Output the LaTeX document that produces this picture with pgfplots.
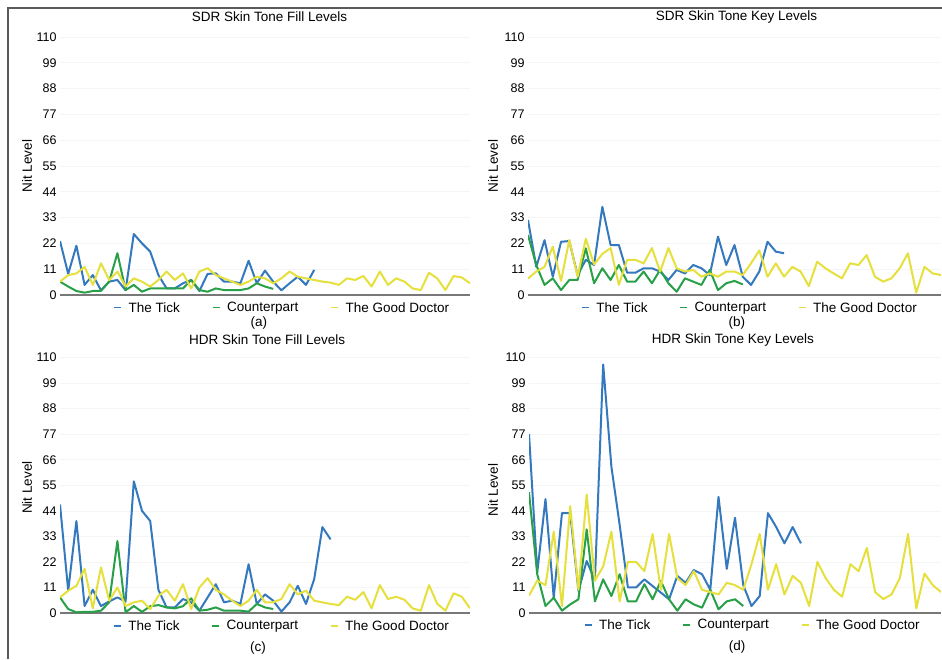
\documentclass[border=0pt]{standalone}
\usepackage{fontspec}
\setmainfont{Liberation Sans}
\usepackage{pgfplots}
\pgfplotsset{compat=1.18}
\definecolor{tickblue}{RGB}{52,120,190}
\definecolor{cpgreen}{RGB}{40,160,72}
\definecolor{gdyellow}{RGB}{230,224,60}
\definecolor{axisgray}{RGB}{120,120,120}
\definecolor{framegray}{RGB}{90,90,90}
\pgfplotsset{
  panel/.style={
    scale only axis, xmin=0, xmax=50, ymin=0, ymax=110,
    ytick={0,11,...,110}, xtick=\empty,
    axis x line*=bottom, axis y line*=left,
    x axis line style={draw=axisgray, line width=1.4pt, -},
    y axis line style={draw=none},
    major tick length=0pt, tick style={draw=none},
    ymajorgrids, grid style={draw=gray!8, line width=0.6pt},
    yticklabel style={font=\fontsize{12.5}{14}\selectfont, text=black},
    /pgf/number format/assume math mode=true,
    title style={font=\fontsize{13.5}{16}\selectfont, anchor=center},
    ylabel={Nit Level},
    ylabel style={font=\fontsize{13.5}{16}\selectfont, anchor=center},
    xlabel style={font=\fontsize{13.5}{16}\selectfont, anchor=center},
    legend columns=3,
    legend cell align=left,
    legend style={draw=none, fill=none, anchor=west, inner sep=0pt,
      font=\fontsize{13.5}{16}\selectfont,
      /tikz/every odd column/.append style={column sep=5pt},
      /tikz/every even column/.append style={column sep=30pt}},
    legend image code/.code={\draw[##1, line width=1.2pt] (0pt,0pt) -- (7pt,0pt);},
    every axis plot/.append style={line width=2pt, line join=round, no marks},
  }
}
\begin{document}
\begin{tikzpicture}
\useasboundingbox (0pt,0pt) rectangle (942pt,659pt);
\fill[white] (0pt,0pt) rectangle (942pt,659pt);
\draw[framegray, line width=1.5pt] (8pt,0pt) -- (8pt,651pt) -- (942pt,651pt);

% (a)
\begin{axis}[panel, at={(60pt,364pt)}, anchor=south west, width=410pt, height=258pt,
  title={SDR Skin Tone Fill Levels}, title style={at={(axis description cs:0.511,1.054)}},
  ylabel style={at={(axis description cs:-0.0805,0.5)}},
  xlabel={(a)}, xlabel style={at={(axis description cs:0.485,-0.1085)}},
  legend style={at={(axis description cs:0.13,-0.05)}}]
\addplot[tickblue] table[row sep=\\, x expr=\coordindex, y=v] {v\\ 23\\ 9\\ 21\\ 4.3\\ 8.5\\ 2\\ 5.7\\ 6.4\\ 2\\ 26\\ 22\\ 18.5\\ 8.5\\ 2.8\\ 2.8\\ 5\\ 6.4\\ 1.7\\ 9\\ 9.2\\ 5.7\\ 5.7\\ 5\\ 14.6\\ 5\\ 10.4\\ 5.7\\ 2\\ 5\\ 7.8\\ 4.3\\ 10.7\\};
\addplot[cpgreen] table[row sep=\\, x expr=\coordindex, y=v] {v\\ 5.7\\ 3.6\\ 1.7\\ 1\\ 1.7\\ 1.8\\ 5.7\\ 17.8\\ 2.1\\ 4.3\\ 1.4\\ 2.8\\ 2.8\\ 2.8\\ 2.8\\ 2.8\\ 6.4\\ 2.1\\ 1.4\\ 2.8\\ 2.1\\ 2.1\\ 2.1\\ 2.8\\ 5\\ 3.6\\ 2.6\\};
\addplot[gdyellow] table[row sep=\\, x expr=\coordindex, y=v] {v\\ 5.7\\ 8.5\\ 9.2\\ 12\\ 4.3\\ 13.5\\ 6.4\\ 10\\ 3.6\\ 7.1\\ 5.7\\ 3.6\\ 6.4\\ 10\\ 6.4\\ 9.2\\ 2.8\\ 10\\ 11.4\\ 8.5\\ 7.1\\ 5.7\\ 4.3\\ 5.7\\ 7.8\\ 7.1\\ 5\\ 7.1\\ 10\\ 7.8\\ 7.1\\ 6.4\\ 5.7\\ 5.3\\ 4.3\\ 7.1\\ 6.4\\ 8.1\\ 3.6\\ 10\\ 4.3\\ 7.1\\ 5.7\\ 2.8\\ 2.1\\ 9.5\\ 7.1\\ 2.1\\ 8.1\\ 7.5\\ 5\\};
\legend{The Tick, Counterpart, The Good Doctor}
\end{axis}

% (b)
\begin{axis}[panel, at={(528pt,364pt)}, anchor=south west, width=413pt, height=258pt,
  title={SDR Skin Tone Key Levels}, title style={at={(axis description cs:0.505,1.054)}},
  ylabel style={at={(axis description cs:-0.0847,0.5)}},
  xlabel={(b)}, xlabel style={at={(axis description cs:0.506,-0.1085)}},
  legend style={at={(axis description cs:0.128,-0.05)}}]
\addplot[tickblue] table[row sep=\\, x expr=\coordindex, y=v] {v\\ 32\\ 12\\ 23.4\\ 7.8\\ 22.7\\ 23\\ 8.5\\ 15\\ 12.8\\ 37.6\\ 21.3\\ 21.3\\ 9.5\\ 9.5\\ 11.4\\ 11.4\\ 10\\ 6.4\\ 10.7\\ 9.2\\ 12.8\\ 11.4\\ 8.5\\ 24.9\\ 12.8\\ 21.3\\ 7.8\\ 4.3\\ 10\\ 22.7\\ 18.5\\ 17.8\\};
\addplot[cpgreen] table[row sep=\\, x expr=\coordindex, y=v] {v\\ 25.6\\ 12.8\\ 4.3\\ 7.1\\ 2.1\\ 6.4\\ 6.4\\ 19.9\\ 5\\ 11.4\\ 6.4\\ 12.8\\ 5.7\\ 5.7\\ 10\\ 5\\ 10.7\\ 5\\ 1.4\\ 7.1\\ 5.7\\ 4.3\\ 10.7\\ 2.1\\ 5\\ 6\\ 4.5\\};
\addplot[gdyellow] table[row sep=\\, x expr=\coordindex, y=v] {v\\ 7\\ 10\\ 12\\ 20.6\\ 6\\ 23.5\\ 7.8\\ 24\\ 13\\ 17.5\\ 20\\ 4.3\\ 15\\ 15\\ 13.5\\ 20\\ 10\\ 20\\ 11.4\\ 10\\ 10.7\\ 7.8\\ 9.2\\ 7.8\\ 10\\ 10\\ 8.5\\ 13.5\\ 19\\ 7.8\\ 13.5\\ 7.8\\ 12\\ 10\\ 3.8\\ 14.2\\ 11.4\\ 9.2\\ 7.1\\ 13.5\\ 12.8\\ 17\\ 7.8\\ 5.7\\ 7.1\\ 11.4\\ 17.8\\ 1\\ 12\\ 9.2\\ 8.5\\};
\legend{The Tick, Counterpart, The Good Doctor}
\end{axis}

% (c)
\begin{axis}[panel, at={(60pt,46pt)}, anchor=south west, width=410pt, height=255.5pt,
  title={HDR Skin Tone Fill Levels}, title style={at={(axis description cs:0.505,1.045)}},
  ylabel style={at={(axis description cs:-0.0805,0.491)}},
  xlabel={(c)}, xlabel style={at={(axis description cs:0.483,-0.137)}},
  legend style={at={(axis description cs:0.129,-0.051)}}]
\addplot[tickblue] table[row sep=\\, x expr=\coordindex, y=v] {v\\ 46.7\\ 9.6\\ 39.6\\ 3\\ 10\\ 3\\ 5\\ 6.7\\ 5\\ 56.7\\ 44\\ 39.6\\ 10\\ 2.4\\ 2.4\\ 6\\ 4.6\\ 1\\ 6.7\\ 12.4\\ 4.6\\ 5.3\\ 3.9\\ 21\\ 3.9\\ 8\\ 5.3\\ 0.6\\ 4.6\\ 11.7\\ 3.9\\ 14.6\\ 37\\ 31.7\\};
\addplot[cpgreen] table[row sep=\\, x expr=\coordindex, y=v] {v\\ 6.7\\ 1.7\\ 0.3\\ 0.5\\ 0.5\\ 1\\ 4.6\\ 31\\ 0.3\\ 3\\ 0.5\\ 2.9\\ 3.4\\ 2.4\\ 2\\ 2.9\\ 6.3\\ 1\\ 1.4\\ 2.4\\ 1\\ 1\\ 1\\ 0.6\\ 3.9\\ 2.4\\ 1.7\\};
\addplot[gdyellow] table[row sep=\\, x expr=\coordindex, y=v] {v\\ 6.7\\ 9.6\\ 11.7\\ 19\\ 2\\ 19.6\\ 5.3\\ 11\\ 3\\ 4.6\\ 5.3\\ 1.7\\ 7.4\\ 10\\ 5.3\\ 12.4\\ 1.7\\ 11\\ 15\\ 10\\ 8\\ 5.3\\ 3\\ 5.3\\ 10\\ 4.6\\ 4.6\\ 6\\ 12.4\\ 8\\ 9.6\\ 5.3\\ 4.6\\ 3.9\\ 3.4\\ 7\\ 5.7\\ 9\\ 2\\ 12\\ 6\\ 7\\ 5.7\\ 2\\ 1\\ 12\\ 4\\ 1\\ 8.5\\ 7\\ 2\\};
\legend{The Tick, Counterpart, The Good Doctor}
\end{axis}

% (d)
\begin{axis}[panel, at={(529pt,46pt)}, anchor=south west, width=412pt, height=255.5pt,
  title={HDR Skin Tone Key Levels}, title style={at={(axis description cs:0.495,1.045)}},
  ylabel style={at={(axis description cs:-0.087,0.481)}},
  xlabel={(d)}, xlabel style={at={(axis description cs:0.505,-0.133)}},
  legend style={at={(axis description cs:0.133,-0.047)}}]
\addplot[tickblue] table[row sep=\\, x expr=\coordindex, y=v] {v\\ 77\\ 17.4\\ 49\\ 6.6\\ 43\\ 43\\ 9.5\\ 22.4\\ 14\\ 107\\ 63\\ 38\\ 11\\ 11\\ 14.5\\ 11.6\\ 8.8\\ 5.9\\ 16\\ 13\\ 18.5\\ 16.7\\ 10\\ 50\\ 19\\ 41\\ 12\\ 3\\ 7.3\\ 43\\ 37\\ 30\\ 37\\ 30\\};
\addplot[cpgreen] table[row sep=\\, x expr=\coordindex, y=v] {v\\ 52\\ 16.7\\ 3\\ 6.6\\ 1\\ 3.7\\ 5.9\\ 36\\ 5\\ 14.5\\ 7.3\\ 16.7\\ 5\\ 5\\ 12.4\\ 5.9\\ 13.8\\ 5.9\\ 1\\ 5.9\\ 3.7\\ 2.3\\ 10\\ 1.6\\ 5\\ 5.9\\ 3\\};
\addplot[gdyellow] table[row sep=\\, x expr=\coordindex, y=v] {v\\ 7.5\\ 14\\ 12\\ 35\\ 3\\ 46\\ 10\\ 51\\ 14\\ 20\\ 35\\ 5\\ 22\\ 22\\ 18\\ 34\\ 10\\ 34\\ 15\\ 12\\ 18\\ 10\\ 9\\ 8\\ 13\\ 12\\ 10\\ 21\\ 34\\ 10\\ 21\\ 8\\ 16\\ 13\\ 3\\ 22\\ 15\\ 10\\ 7\\ 21\\ 18\\ 28\\ 9\\ 6\\ 8\\ 15\\ 34\\ 2\\ 17\\ 12\\ 9\\};
\legend{The Tick, Counterpart, The Good Doctor}
\end{axis}
\end{tikzpicture}
\end{document}
